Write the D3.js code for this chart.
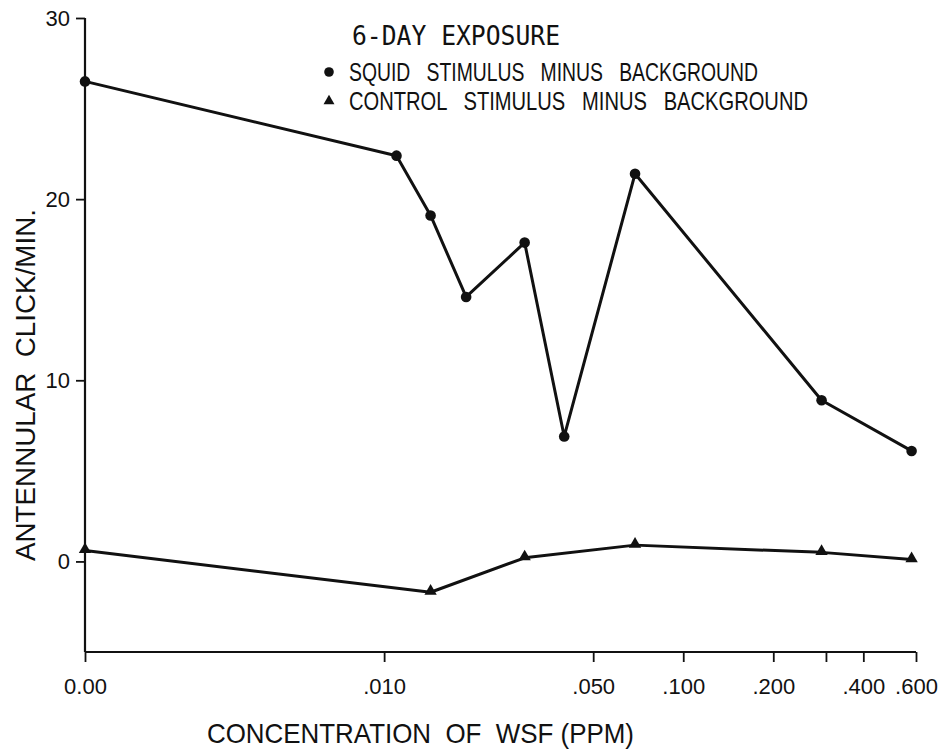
<!DOCTYPE html>
<html>
<head>
<meta charset="utf-8">
<script src="https://cdn.jsdelivr.net/npm/d3@7"></script>
<style>
  html, body { margin: 0; padding: 0; background: #fff; }
  svg { display: block; }
  text { fill: #111; }
  .label { white-space: pre; }
</style>
</head>
<body>
<svg id="chart" width="943" height="750"></svg>
<script>
// Concentration of water-soluble fraction (ppm); 0 is drawn at the axis origin
const concentration = [0, 0.011, 0.0143, 0.0188, 0.0295, 0.040, 0.069, 0.29, 0.58];
// Antennular clicks per minute, stimulus minus background
const squid   = [26.5, 22.4, 19.1, 14.6, 17.6, 6.9, 21.4, 8.9, 6.1];
const control = [0.6, null, -1.7, null, 0.2, null, 0.9, 0.5, 0.1];

const xTicks = [0, 0.01, 0.05, 0.1, 0.2, 0.3, 0.4, 0.6];
const xTickLabels = ["0.00", ".010", ".050", ".100", ".200", "", ".400", ".600"];
const yTicks = [0, 10, 20, 30];

const svg = d3.select("#chart");
const plot = { left: 85, right: 916, top: 18, bottom: 652 };

// Log axis with a break: zero concentration sits at the origin (one decade below .010)
const origin = 0.001;
const xLog = d3.scaleLog().domain([origin, 0.6]).range([plot.left, plot.right]);
const x = v => xLog(v === 0 ? origin : v);
const y = d3.scaleLinear().domain([-5, 30]).range([plot.bottom, plot.top]);

const ink = "#111";
const sans = "'Liberation Sans', Arial, sans-serif";

// Axes
const xAxis = d3.axisBottom(xLog)
  .tickValues(xTicks.map(v => v === 0 ? origin : v))
  .tickFormat((d, i) => xTickLabels[i])
  .tickSize(10).tickPadding(16);
const gx = svg.append("g").attr("transform", `translate(0,${plot.bottom})`).call(xAxis);

const yAxis = d3.axisLeft(y).tickValues(yTicks).tickFormat(d3.format("d"))
  .tickSize(9).tickPadding(6);
const gy = svg.append("g").attr("transform", `translate(${plot.left},0)`).call(yAxis);

[gx, gy].forEach(g => {
  g.select(".domain").attr("stroke", ink).attr("stroke-width", 2.2);
  g.selectAll(".tick line").attr("stroke", ink).attr("stroke-width", 1.8);
  g.selectAll(".tick text").attr("font-family", sans).attr("font-size", 22).attr("fill", ink);
});
gx.select(".domain").attr("d", `M${plot.left},0H${plot.right}`);
gy.select(".domain").attr("d", `M0,${y(30)}V${plot.bottom}`);

// Series lines and markers
const squidPts = concentration.map((c, i) => [c, squid[i]]);
const controlPts = concentration.map((c, i) => [c, control[i]]).filter(d => d[1] !== null);
const line = d3.line().x(d => x(d[0])).y(d => y(d[1]));

svg.append("path").datum(squidPts).attr("d", line)
  .attr("fill", "none").attr("stroke", ink).attr("stroke-width", 3).attr("stroke-linejoin", "round");
svg.append("path").datum(controlPts).attr("d", line)
  .attr("fill", "none").attr("stroke", ink).attr("stroke-width", 3).attr("stroke-linejoin", "round");

svg.append("g").selectAll("circle").data(squidPts).join("circle")
  .attr("cx", d => x(d[0])).attr("cy", d => y(d[1])).attr("r", 5.3).attr("fill", ink);

const tri = d3.symbol().type(d3.symbolTriangle).size(66);
svg.append("g").selectAll("path").data(controlPts).join("path")
  .attr("d", tri).attr("fill", ink)
  .attr("transform", d => `translate(${x(d[0])},${y(d[1]) - 1})`);

// Axis titles
svg.append("text").attr("class", "label")
  .attr("transform", "translate(35,385) rotate(-90)")
  .attr("text-anchor", "middle")
  .attr("font-family", sans).attr("font-size", 28)
  .attr("textLength", 352).attr("lengthAdjust", "spacingAndGlyphs")
  .text("ANTENNULAR  CLICK/MIN.");

svg.append("text").attr("class", "label")
  .attr("x", 207).attr("y", 743)
  .attr("font-family", sans).attr("font-size", 28)
  .attr("textLength", 427).attr("lengthAdjust", "spacingAndGlyphs")
  .text("CONCENTRATION  OF  WSF (PPM)");

// Title and legend
svg.append("text").attr("class", "label")
  .attr("x", 352).attr("y", 45)
  .attr("font-family", "'DejaVu Sans Mono', 'Liberation Mono', monospace").attr("font-size", 27)
  .attr("textLength", 208).attr("lengthAdjust", "spacingAndGlyphs")
  .text("6-DAY EXPOSURE");

const legend = [
  { label: "SQUID   STIMULUS   MINUS   BACKGROUND", shape: "circle", cy: 72, width: 409 },
  { label: "CONTROL   STIMULUS   MINUS   BACKGROUND", shape: "triangle", cy: 101, width: 459 }
];
const lg = svg.append("g");
legend.forEach(d => {
  if (d.shape === "circle") {
    lg.append("circle").attr("cx", 329).attr("cy", d.cy).attr("r", 4.8).attr("fill", ink);
  } else {
    lg.append("path").attr("d", d3.symbol().type(d3.symbolTriangle).size(52)).attr("fill", ink)
      .attr("transform", `translate(329,${d.cy})`);
  }
  lg.append("text").attr("class", "label")
    .attr("x", 349).attr("y", d.cy + 9)
    .attr("font-family", sans).attr("font-size", 25)
    .attr("textLength", d.width).attr("lengthAdjust", "spacingAndGlyphs")
    .text(d.label);
});
</script>
</body>
</html>
